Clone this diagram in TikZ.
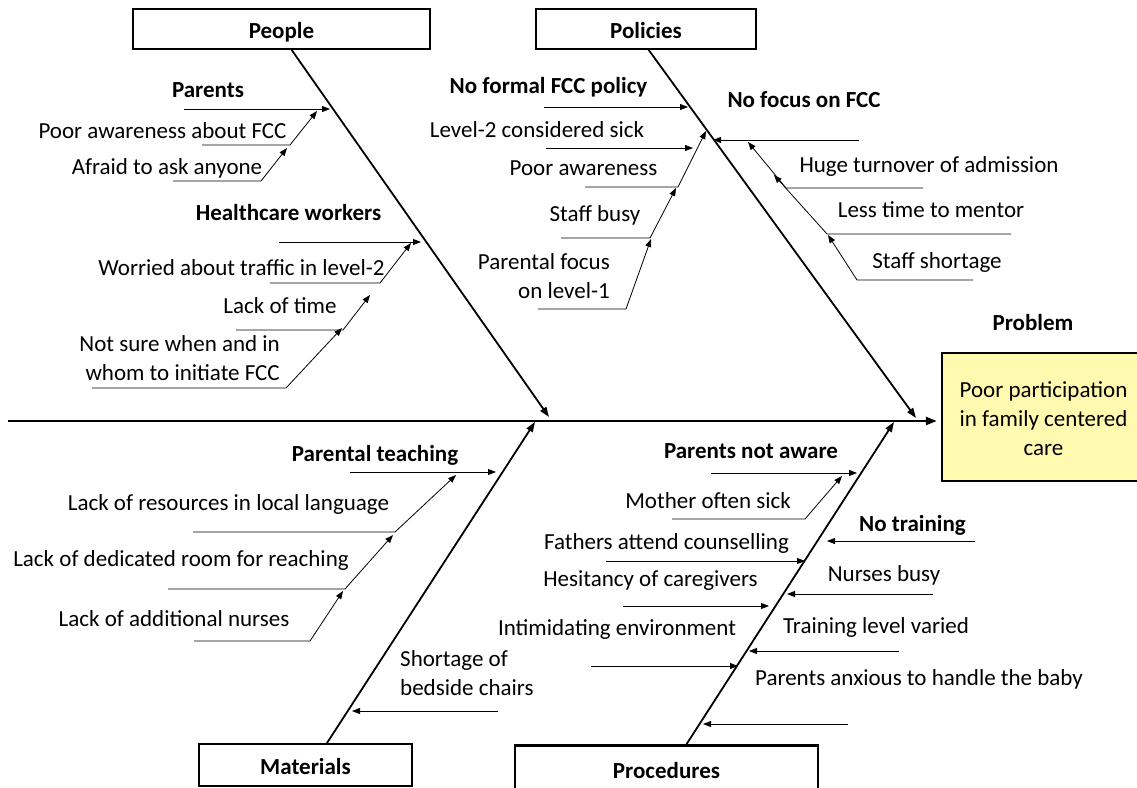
\documentclass[tikz,border=0pt]{standalone}
\usepackage{fontspec}
\setmainfont{Carlito}
\usetikzlibrary{arrows.meta}

\newcommand\fishfont{\fontsize{23}{29}\selectfont}
\definecolor{probfill}{RGB}{255,250,175}

\begin{document}
\begin{tikzpicture}[x=1pt,y=-1pt,
  cat/.style={draw,line width=2.4pt,inner sep=0pt,minimum height=40pt,
    text height=18pt,text depth=0pt,font=\fishfont\bfseries},
  lbl/.style={inner sep=0pt,anchor=base,font=\fishfont},
  head/.style={lbl,font=\fishfont\bfseries},
  spine/.style={line width=2.4pt,-{Triangle[length=11pt,width=8pt]}},
  bone/.style={line width=1.8pt,-{Triangle[length=10pt,width=7pt]}},
  rib/.style={line width=0.8pt,-{Triangle[length=8pt,width=6pt]}}]
  \useasboundingbox (0,0) rectangle (1137,787);

  % categories and problem
  \node[cat,minimum width=297pt] (people) at (281.5,29) {People};
  \node[cat,minimum width=220pt] (policies) at (646,29) {Policies};
  \node[cat,minimum width=213pt,minimum height=42pt] (materials) at (305.5,765) {Materials};
  \node[cat,minimum width=303pt,minimum height=47pt] (procedures) at (666.5,769) {Procedures};
  \node[draw,line width=2.4pt,fill=probfill,font=\fishfont,align=center,
    text height=76pt,text depth=0pt,
    minimum width=203pt,minimum height=128pt] (problem) at (1043.5,417)
    {Poor participation\\in family centered\\care};
  \node[head] (problemlbl) at (1033,330) {Problem};

  % spine and bones
  \coordinate (tail) at (8,421);
  \draw[spine,shorten >=4pt] (tail) -- (tail -| problem.west);
  \coordinate (pplA) at (291,49);  \coordinate (pplB) at (549,417);
  \coordinate (polA) at (648,49);  \coordinate (polB) at (916,418);
  \coordinate (matA) at (327,743); \coordinate (matB) at (535,422);
  \coordinate (proA) at (686,745); \coordinate (proB) at (894,422);
  \draw[bone] (pplA) -- (pplB);
  \draw[bone] (polA) -- (polB);
  \draw[bone] (matA) -- (matB);
  \draw[bone] (proA) -- (proB);

  % people
  \node[head] (parents) at (208,97) {Parents};
  \node[lbl] (awareFCC) at (162.5,138) {Poor awareness about FCC};
  \node[lbl] (afraid) at (167,174) {Afraid to ask anyone};
  \node[head] (hcw) at (288.5,220) {Healthcare workers};
  \node[lbl] (traffic) at (241.5,275) {Worried about traffic in level-2};
  \node[lbl] (notime) at (280,313) {Lack of time};
  \node[lbl,anchor=base east,align=right] (notsure) at (280,380) {Not sure when and in\\whom to initiate FCC};
  \coordinate (r1a) at (184,109); \coordinate (r1b) at (330,109);
  \coordinate (r2a) at (202,145); \coordinate (r2b) at (290,145); \coordinate (r2c) at (317,111);
  \coordinate (r3a) at (173,181); \coordinate (r3b) at (261,181); \coordinate (r3c) at (287,148);
  \coordinate (r4a) at (279,242); \coordinate (r4b) at (421,242);
  \coordinate (r5a) at (270,283); \coordinate (r5b) at (380,283); \coordinate (r5c) at (411,243);
  \coordinate (r6a) at (236,330); \coordinate (r6b) at (343,330); \coordinate (r6c) at (370,295);
  \coordinate (r7a) at (92,388);  \coordinate (r7b) at (286,388); \coordinate (r7c) at (342,328);
  \draw[rib] (r1a) -- (r1b);
  \draw[rib] (r2a) -- (r2b) -- (r2c);
  \draw[rib] (r3a) -- (r3b) -- (r3c);
  \draw[rib] (r4a) -- (r4b);
  \draw[rib] (r5a) -- (r5b) -- (r5c);
  \draw[rib] (r6a) -- (r6b) -- (r6c);
  \draw[rib] (r7a) -- (r7b) -- (r7c);

  % policies
  \node[head] (noformal) at (548.5,93) {No formal FCC policy};
  \node[lbl] (sick) at (537,137) {Level-2 considered sick};
  \node[lbl] (poorawr) at (583.5,175) {Poor awareness};
  \node[lbl] (staffbusy) at (595,221) {Staff busy};
  \node[lbl,anchor=base east,align=right] (focus1) at (610,298) {Parental focus\\on level-1};
  \node[head] (nofocus) at (804,107) {No focus on FCC};
  \node[lbl] (turnover) at (929,172) {Huge turnover of admission};
  \node[lbl] (mentor) at (931,217) {Less time to mentor};
  \node[lbl] (shortage) at (937,268) {Staff shortage};
  \coordinate (s1a) at (544,107); \coordinate (s1b) at (688,107);
  \coordinate (s2a) at (546,148); \coordinate (s2b) at (693,148);
  \coordinate (s3a) at (585,187); \coordinate (s3b) at (678,187); \coordinate (s3c) at (706,131);
  \coordinate (s4a) at (561,238); \coordinate (s4b) at (650,238); \coordinate (s4c) at (676,188);
  \coordinate (s5a) at (538,309); \coordinate (s5b) at (626,309); \coordinate (s5c) at (651,239);
  \coordinate (s6a) at (859,140); \coordinate (s6b) at (713,140);
  \coordinate (s7a) at (923,188); \coordinate (s7b) at (786,188); \coordinate (s7c) at (748,142);
  \coordinate (s8a) at (1011,234); \coordinate (s8b) at (827,234); \coordinate (s8c) at (774,175);
  \coordinate (s9a) at (973,280); \coordinate (s9b) at (857,280); \coordinate (s9c) at (828,235);
  \draw[rib] (s1a) -- (s1b);
  \draw[rib] (s2a) -- (s2b);
  \draw[rib] (s3a) -- (s3b) -- (s3c);
  \draw[rib] (s4a) -- (s4b) -- (s4c);
  \draw[rib] (s5a) -- (s5b) -- (s5c);
  \draw[rib] (s6a) -- (s6b);
  \draw[rib] (s7a) -- (s7b) -- (s7c);
  \draw[rib] (s8a) -- (s8b) -- (s8c);
  \draw[rib] (s9a) -- (s9b) -- (s9c);

  % materials
  \node[head] (teaching) at (375,461) {Parental teaching};
  \node[lbl] (language) at (228.5,510) {Lack of resources in local language};
  \node[lbl] (room) at (181,566) {Lack of dedicated room for reaching};
  \node[lbl] (addnurses) at (174,626) {Lack of additional nurses};
  \node[lbl,anchor=base west,align=left] (chairs) at (400,695) {Shortage of\\bedside chairs};
  \coordinate (m1a) at (350,472); \coordinate (m1b) at (496,472);
  \coordinate (m2a) at (193,532); \coordinate (m2b) at (395,532); \coordinate (m2c) at (456,475);
  \coordinate (m3a) at (168,589); \coordinate (m3b) at (345,589); \coordinate (m3c) at (393,535);
  \coordinate (m4a) at (194,641); \coordinate (m4b) at (310,641); \coordinate (m4c) at (343,591);
  \coordinate (m5a) at (498,711); \coordinate (m5b) at (352,711);
  \draw[rib] (m1a) -- (m1b);
  \draw[rib] (m2a) -- (m2b) -- (m2c);
  \draw[rib] (m3a) -- (m3b) -- (m3c);
  \draw[rib] (m4a) -- (m4b) -- (m4c);
  \draw[rib] (m5a) -- (m5b);

  % procedures
  \node[head] (notaware) at (751,458) {Parents not aware};
  \node[lbl] (mother) at (708,508) {Mother often sick};
  \node[lbl] (fathers) at (666.5,549) {Fathers attend counselling};
  \node[lbl] (hesitancy) at (650.5,586) {Hesitancy of caregivers};
  \node[lbl] (intimid) at (617,635) {Intimidating environment};
  \node[head] (notrain) at (912.5,531) {No training};
  \node[lbl] (nbusy) at (884,581) {Nurses busy};
  \node[lbl] (varied) at (876,633) {Training level varied};
  \node[lbl] (anxious) at (919,685) {Parents anxious to handle the baby};
  \coordinate (q1a) at (711,473); \coordinate (q1b) at (857,473);
  \coordinate (q2a) at (672,519); \coordinate (q2b) at (805,519); \coordinate (q2c) at (842,476);
  \coordinate (q3a) at (606,561); \coordinate (q3b) at (805,561);
  \coordinate (q4a) at (623,606); \coordinate (q4b) at (769,606);
  \coordinate (q5a) at (591,666); \coordinate (q5b) at (738,666);
  \coordinate (q6a) at (975,541); \coordinate (q6b) at (827,541);
  \coordinate (q7a) at (933,594); \coordinate (q7b) at (787,594);
  \coordinate (q8a) at (899,651); \coordinate (q8b) at (749,651);
  \coordinate (q9a) at (848,724); \coordinate (q9b) at (703,724);
  \draw[rib] (q1a) -- (q1b);
  \draw[rib] (q2a) -- (q2b) -- (q2c);
  \draw[rib] (q3a) -- (q3b);
  \draw[rib] (q4a) -- (q4b);
  \draw[rib] (q5a) -- (q5b);
  \draw[rib] (q6a) -- (q6b);
  \draw[rib] (q7a) -- (q7b);
  \draw[rib] (q8a) -- (q8b);
  \draw[rib] (q9a) -- (q9b);
\end{tikzpicture}
\end{document}
